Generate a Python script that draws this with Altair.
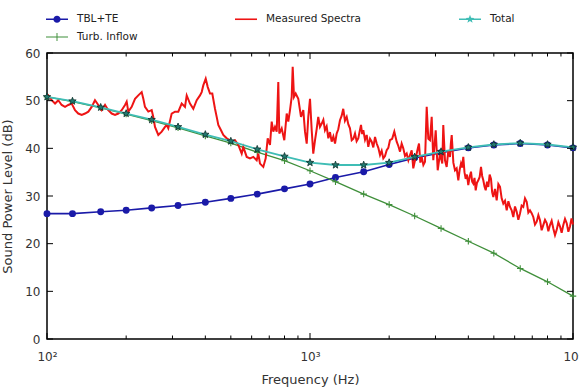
import altair as alt
import pandas as pd

# ---------------- data ----------------
freq_bands = [100, 125, 160, 200, 250, 315, 400, 500, 630, 800, 1000,
              1250, 1600, 2000, 2500, 3150, 4000, 5000, 6300, 8000, 10000]
tbl_te = [26.3, 26.3, 26.7, 27.0, 27.5, 28.0, 28.7, 29.5, 30.4, 31.5, 32.5,
          33.9, 35.1, 36.6, 38.0, 39.1, 40.1, 40.7, 41.0, 40.7, 40.1]
turb_inflow = [50.8, 49.8, 48.5, 47.2, 45.8, 44.3, 42.6, 41.1, 39.2, 37.4, 35.3,
               33.0, 30.4, 28.2, 25.8, 23.2, 20.5, 18.0, 14.8, 12.0, 9.0]
total = [50.8, 49.9, 48.6, 47.3, 46.0, 44.5, 42.9, 41.5, 39.8, 38.3, 37.0,
         36.5, 36.5, 37.0, 38.2, 39.3, 40.2, 40.8, 41.1, 40.8, 40.2]

meas_freq = [
    100, 101.1, 104.2, 107.3, 110.4, 113.7, 117.1, 120.5, 124.1, 127.8, 131.5,
    135.5, 139.5, 143.6, 147.9, 152.2, 156.7, 161.4, 166.2, 171.0, 176.2,
    181.4, 186.7, 192.3, 198.0, 200.9, 203.8, 209.9, 216.1, 222.4, 229.1,
    232.4, 235.8, 242.8, 250.1, 253.6, 257.4, 265.0, 273.0, 281.0, 285.2,
    289.2, 297.9, 306.7, 315.7, 325.2, 334.7, 339.8, 349.7, 360.0, 370.9,
    381.7, 387.4, 392.9, 401.3, 408.3, 416.7, 425.1, 435.3, 441.8, 448.1,
    458.8, 468.1, 482.3, 496.4, 503.8, 518.6, 533.8, 549.9, 557.7, 574.6,
    591.4, 608.8, 627.1, 636.0, 645.5, 664.4, 678.5, 690.5, 704.5, 715.1,
    725.2, 736.0, 747.1, 757.6, 764.3, 780.5, 798.5, 815.5, 827.0, 839.4,
    851.9, 859.4, 869.3, 882.2, 902.6, 924.2, 943.0, 957.2, 971.6, 985.2,
    1000, 1015, 1029, 1045, 1060, 1075, 1091, 1108, 1124, 1140,
    1157, 1174, 1191, 1209, 1227, 1245, 1263, 1281, 1300, 1319,
    1338, 1358, 1379, 1399, 1419, 1441, 1462, 1483, 1504, 1526,
    1544, 1563, 1579, 1595, 1619, 1643, 1666, 1691, 1716, 1741,
    1767, 1793, 1819, 1846, 1873, 1900, 1928, 1957, 1985, 2014,
    2053, 2092, 2136, 2167, 2199, 2231, 2263, 2297, 2332, 2366,
    2400, 2436, 2470, 2508, 2545, 2571, 2597, 2628, 2659, 2698,
    2737, 2778, 2817, 2859, 2902, 2943, 3006, 3059, 3121, 3184,
    3212, 3260, 3309, 3357, 3406, 3432, 3458, 3508, 3559, 3611,
    3664, 3707, 3751, 3789, 3827, 3867, 3908, 3953, 3998, 4046,
    4094, 4136, 4178, 4222, 4266, 4315, 4365, 4417, 4469, 4514,
    4560, 4608, 4657, 4710, 4764, 4821, 4878, 4927, 4977, 5051,
    5127, 5202, 5278, 5355, 5432, 5514, 5597, 5679, 5761, 5845,
    5929, 6018, 6108, 6197, 6287, 6378, 6471, 6569, 6667, 6764,
    6862, 6963, 7064, 7170, 7277, 7384, 7491, 7600, 7710, 7826,
    7943, 8059, 8176, 8296, 8416, 8543, 8670, 8797, 8925, 9055,
    9186, 9325, 9464, 9602, 9742, 9870, 10000,
]
meas_level = [
    50.8, 51.1, 50.1, 49.4, 50.1, 49.1, 48.7, 49.1, 49.4, 48.0, 47.3,
    47.0, 47.3, 47.7, 48.7, 50.1, 49.1, 48.0, 49.1, 48.0, 47.3,
    47.0, 47.3, 48.0, 49.1, 49.8, 47.7, 48.7, 50.4, 51.1, 51.8,
    50.4, 48.7, 47.7, 48.0, 46.6, 44.5, 42.8, 43.5, 44.5, 44.9,
    44.2, 47.3, 47.7, 47.7, 49.4, 48.7, 51.1, 49.4, 48.3, 50.1,
    51.1, 51.8, 53.2, 54.6, 52.9, 51.5, 51.5, 48.3, 46.6, 44.9,
    43.8, 42.8, 42.1, 41.7, 41.4, 41.7, 40.7, 38.9, 40.3, 38.2,
    37.9, 38.2, 37.5, 38.9, 36.8, 36.1, 37.9, 42.1, 40.7, 45.6,
    43.5, 44.5, 43.5, 53.9, 43.1, 44.2, 41.7, 47.3, 45.6, 48.0,
    50.8, 57.1, 50.8, 51.5, 50.4, 46.6, 48.0, 43.5, 41.0, 46.6,
    50.4, 43.8, 38.9, 41.7, 44.0, 46.6, 44.5, 45.2, 46.0, 43.8,
    44.6, 42.1, 43.4, 41.4, 42.5, 41.0, 43.1, 44.0, 45.9, 46.8,
    48.3, 45.8, 46.6, 45.0, 44.2, 41.7, 42.0, 43.1, 41.5, 42.1,
    43.5, 44.9, 43.0, 43.8, 41.8, 42.8, 40.3, 42.0, 41.4, 40.2,
    42.4, 41.0, 40.1, 38.6, 39.5, 37.9, 38.4, 39.6, 40.1, 41.7,
    42.0, 43.5, 41.4, 40.5, 39.3, 41.0, 40.0, 38.4, 38.9, 37.5,
    38.6, 39.6, 35.8, 37.5, 38.9, 40.0, 41.0, 37.0, 38.2, 36.5,
    37.2, 48.7, 42.0, 41.7, 46.6, 37.5, 43.8, 35.4, 38.9, 36.8,
    44.9, 37.5, 36.1, 39.5, 38.2, 41.0, 42.8, 37.0, 35.4, 35.8,
    33.3, 35.5, 36.8, 36.0, 38.2, 35.0, 33.6, 34.5, 32.3, 34.0,
    35.1, 33.0, 32.6, 33.8, 31.2, 32.8, 33.3, 34.0, 36.1, 34.2,
    33.3, 32.0, 31.2, 33.0, 31.9, 34.5, 33.6, 30.8, 29.8, 31.5,
    29.1, 32.5, 31.9, 29.5, 28.4, 29.0, 27.0, 28.9, 27.7, 27.0,
    25.6, 27.8, 26.7, 25.0, 26.3, 28.0, 27.7, 29.5, 28.8, 26.5,
    27.0, 26.4, 25.6, 24.0, 24.6, 26.0, 24.9, 22.8, 23.9, 25.0,
    24.3, 22.6, 23.9, 24.8, 23.2, 21.8, 22.9, 24.5, 23.6, 22.3,
    23.9, 25.2, 24.3, 22.5, 23.6, 25.3, 24.0,
]

series_names = ["TBL+TE", "Measured Spectra", "Total", "Turb. Inflow"]
series_colors = ["#1a1aa8", "#ee1414", "#3fbdb5", "#3f8f3a"]

y_tick_values = [0, 10, 20, 30, 40, 50, 60]
x_major = [100, 1000, 10000]
x_minor = [200, 300, 400, 500, 600, 700, 800, 900,
           2000, 3000, 4000, 5000, 6000, 7000, 8000, 9000]

# ---------------- styling ----------------
W, H = 526, 286
BLUE, RED, TEAL, GREEN = series_colors[0], series_colors[1], series_colors[2], series_colors[3]
FONT = "DejaVu Sans"

xscale = alt.Scale(type="log", domain=[100, 10000])
yscale = alt.Scale(domain=[0, 60])
xaxis = alt.Axis(
    values=x_major,
    labelExpr="datum.value == 100 ? '10\u00b2' : datum.value == 1000 ? '10\u00b3' : '10\u2074'",
    ticks=False, grid=False, domain=False, labelPadding=12,
    title="Frequency (Hz)", titlePadding=11, labelFlush=False,
)
yaxis = alt.Axis(
    values=y_tick_values, ticks=False, grid=False, domain=False,
    labelPadding=7, title="Sound Power Level (dB)", titlePadding=10,
)


def X(field):
    return alt.X(field, type="quantitative", scale=xscale, axis=xaxis)


def Y(field):
    return alt.Y(field, type="quantitative", scale=yscale, axis=yaxis)


bands = pd.DataFrame({"f": freq_bands, "tbl": tbl_te, "turb": turb_inflow, "total": total})
meas = pd.DataFrame({"f": meas_freq, "L": meas_level})

star_path = ("M0,-1L0.245,-0.338L0.951,-0.309L0.397,0.129L0.588,0.809L0,0.42"
             "L-0.588,0.809L-0.397,0.129L-0.951,-0.309L-0.245,-0.338Z")
plus_path = "M-1,0H1M0,-1V1"

blue_line = alt.Chart(bands).mark_line(color=BLUE, strokeWidth=1.6).encode(x=X("f"), y=Y("tbl"))
blue_pts = alt.Chart(bands).mark_point(shape="circle", filled=True, size=48, color=BLUE,
                                       opacity=1).encode(x=X("f"), y=Y("tbl"))
green_line = alt.Chart(bands).mark_line(color=GREEN, strokeWidth=1.3).encode(x=X("f"), y=Y("turb"))
green_pts = alt.Chart(bands).mark_point(shape=plus_path, filled=False, size=42, color=GREEN,
                                        strokeWidth=1.1, opacity=1).encode(x=X("f"), y=Y("turb"))
red_line = alt.Chart(meas).mark_line(color=RED, strokeWidth=2.0).encode(x=X("f"), y=Y("L"))
teal_line = alt.Chart(bands).mark_line(color=TEAL, strokeWidth=1.8).encode(x=X("f"), y=Y("total"))
teal_pts = alt.Chart(bands).mark_point(shape=star_path, filled=True, size=60, fill="#227a70",
                                       stroke="#0b2e2a", strokeWidth=0.8,
                                       opacity=1).encode(x=X("f"), y=Y("total"))

# inward frame ticks
yt = pd.DataFrame({"v": y_tick_values})
xmaj = pd.DataFrame({"v": x_major})
xmin = pd.DataFrame({"v": x_minor})
tick_color = "#000"
yl = alt.Chart(yt).mark_rule(color=tick_color, strokeWidth=1).encode(
    y=Y("v"), x=alt.value(0), x2=alt.value(6))
yr = alt.Chart(yt).mark_rule(color=tick_color, strokeWidth=1).encode(
    y=Y("v"), x=alt.value(W - 6), x2=alt.value(W))
xb = alt.Chart(xmaj).mark_rule(color=tick_color, strokeWidth=1).encode(
    x=X("v"), y=alt.value(H), y2=alt.value(H - 6))
xt = alt.Chart(xmaj).mark_rule(color=tick_color, strokeWidth=1).encode(
    x=X("v"), y=alt.value(0), y2=alt.value(6))
xbm = alt.Chart(xmin).mark_rule(color=tick_color, strokeWidth=1).encode(
    x=X("v"), y=alt.value(H), y2=alt.value(H - 3.5))
xtm = alt.Chart(xmin).mark_rule(color=tick_color, strokeWidth=1).encode(
    x=X("v"), y=alt.value(0), y2=alt.value(3.5))

# legend (line + marker symbols)
leg_paths = [
    "M-1.375,-0.09H1.375V0.09H-1.375Z M0.45,0A0.45,0.45,0,1,1,-0.45,0A0.45,0.45,0,1,1,0.45,0Z",
    "M-1.375,-0.1H1.375V0.1H-1.375Z",
    "M-1.375,-0.08H1.375V0.08H-1.375Z M0,-0.55L0.135,-0.186L0.523,-0.17L0.219,0.071"
    "L0.323,0.445L0,0.23L-0.323,0.445L-0.219,0.071L-0.523,-0.17L-0.135,-0.186Z",
    "M-1.375,-0.07H1.375V0.07H-1.375Z M-0.06,-0.5H0.06V0.5H-0.06Z",
]
legend_def = alt.Legend(
    title=None, orient="none", legendX=2, legendY=-42, direction="horizontal",
    columns=3, columnPadding=97, rowPadding=4, labelFontSize=10.5, labelFont=FONT,
    labelColor="#222", symbolSize=256, labelOffset=12, symbolStrokeWidth=0,
    padding=0,
)
leg_df = pd.DataFrame({"series": series_names, "f": [None] * 4, "L": [None] * 4})
legend_layer = alt.Chart(leg_df).mark_point(filled=True, opacity=1, size=256, clip=True).encode(
    x=X("f"), y=Y("L"),
    color=alt.Color("series:N", scale=alt.Scale(domain=series_names, range=series_colors),
                    legend=legend_def, sort=series_names),
    shape=alt.Shape("series:N", scale=alt.Scale(domain=series_names, range=leg_paths),
                    legend=legend_def, sort=series_names),
)

chart = alt.layer(
    blue_line, blue_pts, green_line, green_pts, red_line, teal_line, teal_pts,
    yl, yr, xb, xt, xbm, xtm, legend_layer,
).properties(
    width=W, height=H,
    autosize=alt.AutoSizeParams(type="none"),
    padding={"left": 47, "top": 53, "right": 6, "bottom": 49},
    background="white",
).configure_view(
    stroke="#000", strokeWidth=1.5,
).configure_axis(
    labelFont=FONT, titleFont=FONT, labelFontSize=12, titleFontSize=13,
    labelColor="#333", titleColor="#333", titleFontWeight="normal",
)

chart.save("out.html", embed_options={"renderer": "svg", "actions": False})
